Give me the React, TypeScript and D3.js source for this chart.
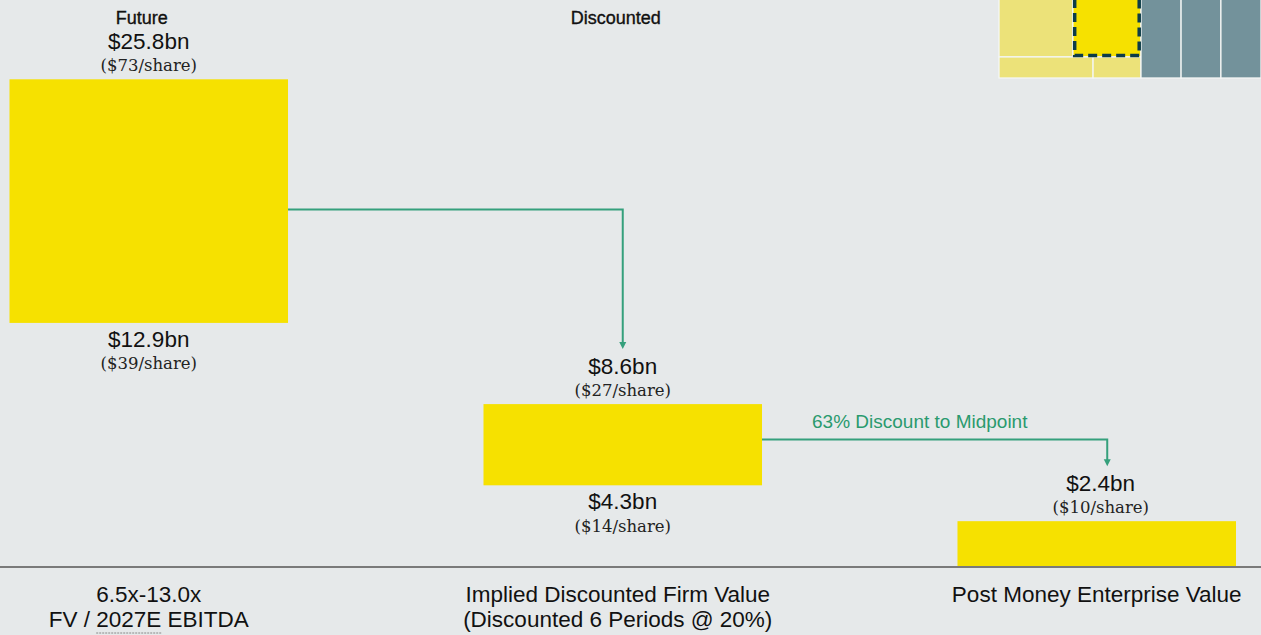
import React, { useEffect, useRef } from 'react';
import * as d3 from 'd3';

// values in $bn, per-share in $
const stageLabels = ['Future', 'Discounted', ''];
const categoryLines = [
  ['6.5x-13.0x', 'FV / 2027E EBITDA'],
  ['Implied Discounted Firm Value', '(Discounted 6 Periods @ 20%)'],
  ['Post Money Enterprise Value'],
];
const highValues = [25.8, 8.6, 2.4];
const lowValues = [12.9, 4.3, 0];
const highPerShare = [73, 27, 10];
const lowPerShare = [39, 14, null];
// level (in $bn) where each connector leaves a bar
const arrowLevels = [18.9, 6.73];
const arrowNotes = ['', '63% Discount to Midpoint'];

// thumbnail in the corner, in percent of its own box
const miniCells = [
  { x0: 0, x1: 28.2, y0: 0, y1: 73, kind: 'light' },
  { x0: 28.2, x1: 54.2, y0: 0, y1: 73, kind: 'bright' },
  { x0: 0, x1: 35.9, y0: 73, y1: 100, kind: 'light' },
  { x0: 35.9, x1: 54.2, y0: 73, y1: 100, kind: 'light' },
  { x0: 54.2, x1: 69.5, y0: 0, y1: 100, kind: 'grey' },
  { x0: 69.5, x1: 84.7, y0: 0, y1: 100, kind: 'grey' },
  { x0: 84.7, x1: 100, y0: 0, y1: 100, kind: 'grey' },
];

const SANS = '"Liberation Sans", Arial, Helvetica, sans-serif';
const SERIF = '"DejaVu Serif", serif';
const YELLOW = '#f6e100';
const GREEN = '#35a07c';

const App = () => {
  const svgRef = useRef<SVGSVGElement>(null);
  const width = 1261;
  const height = 635;

  useEffect(() => {
    const svg = d3.select(svgRef.current);
    svg.selectAll('*').remove();

    const baseY = 566.5;

    const x = d3.scaleBand<number>()
      .domain(d3.range(highValues.length))
      .range([9.5, 1236])
      .paddingInner(0.4124)
      .paddingOuter(0);
    const bw = x.bandwidth();

    const y = d3.scaleLinear().domain([0, 30]).range([baseY, 0]);

    svg.append('rect')
      .attr('width', width)
      .attr('height', height)
      .attr('fill', '#e6e9ea');

    // corner thumbnail (top edge runs off the page)
    const mx = d3.scaleLinear().domain([0, 100]).range([999, 1261]);
    const my = d3.scaleLinear().domain([0, 100]).range([0, 78]);
    const fills = { light: '#ece279', bright: YELLOW, grey: '#73929b' };
    const top0 = d => (d.y0 === 0 ? -10 : my(d.y0));
    svg.append('g')
      .selectAll('rect')
      .data(miniCells)
      .enter().append('rect')
      .attr('x', d => mx(d.x0))
      .attr('y', d => top0(d))
      .attr('width', d => mx(d.x1) - mx(d.x0))
      .attr('height', d => my(d.y1) - top0(d))
      .attr('fill', d => fills[d.kind])
      .attr('stroke', '#f4f6f5')
      .attr('stroke-width', 1.3);
    const hi = miniCells.find(d => d.kind === 'bright');
    svg.append('rect')
      .attr('x', mx(hi.x0) + 1.8)
      .attr('y', -20)
      .attr('width', mx(hi.x1) - mx(hi.x0) - 3.6)
      .attr('height', my(hi.y1) + 20 - 1.5)
      .attr('fill', 'none')
      .attr('stroke', '#0c3c48')
      .attr('stroke-width', 3.5)
      .attr('stroke-dasharray', '9,5');

    // range bars
    svg.append('g')
      .selectAll('rect')
      .data(highValues)
      .enter().append('rect')
      .attr('x', (d, i) => x(i))
      .attr('y', d => y(d))
      .attr('width', bw)
      .attr('height', (d, i) => y(lowValues[i]) - y(d))
      .attr('fill', YELLOW);

    // baseline
    svg.append('line')
      .attr('x1', 0).attr('x2', width)
      .attr('y1', baseY + 0.5).attr('y2', baseY + 0.5)
      .attr('stroke', '#7a7a7a')
      .attr('stroke-width', 2);

    // value labels
    highValues.forEach((v, i) => {
      const cx = x(i) + bw / 2 + (i === 2 ? 4 : 0);
      const top = y(v);
      svg.append('text')
        .attr('x', cx).attr('y', top - 30.5)
        .attr('text-anchor', 'middle')
        .attr('font-family', SANS).attr('font-size', 22.5)
        .attr('fill', '#111')
        .text(`$${v.toFixed(1)}bn`);
      svg.append('text')
        .attr('x', cx).attr('y', top - 8)
        .attr('text-anchor', 'middle')
        .attr('font-family', SERIF).attr('font-size', 16.5)
        .attr('fill', '#222')
        .text(`($${highPerShare[i]}/share)`);

      if (lowPerShare[i] != null) {
        const bot = y(lowValues[i]);
        svg.append('text')
          .attr('x', cx).attr('y', bot + 24)
          .attr('text-anchor', 'middle')
          .attr('font-family', SANS).attr('font-size', 22.5)
          .attr('fill', '#111')
          .text(`$${lowValues[i].toFixed(1)}bn`);
        svg.append('text')
          .attr('x', cx).attr('y', bot + 46.5)
          .attr('text-anchor', 'middle')
          .attr('font-family', SERIF).attr('font-size', 16.5)
          .attr('fill', '#222')
          .text(`($${lowPerShare[i]}/share)`);
      }

      if (stageLabels[i]) {
        svg.append('text')
          .attr('x', x(i) + bw / 2 - 7).attr('y', 24)
          .attr('text-anchor', 'middle')
          .attr('font-family', SANS).attr('font-size', 18)
          .attr('fill', '#111')
          .attr('stroke', '#111').attr('stroke-width', 0.35)
          .text(stageLabels[i]);
      }
    });

    // connectors
    arrowLevels.forEach((lvl, i) => {
      const x0 = x(i) + bw;
      const y0 = y(lvl);
      const x1 = x(i + 1) + bw / 2 + (i === 1 ? 10.5 : 0);
      const tip = y(highValues[i + 1]) - 55;
      svg.append('path')
        .attr('d', `M${x0},${y0}H${x1}V${tip - 6}`)
        .attr('fill', 'none')
        .attr('stroke', GREEN)
        .attr('stroke-width', 2);
      svg.append('path')
        .attr('d', `M${x1 - 3.5},${tip - 7}L${x1 + 3.5},${tip - 7}L${x1},${tip}Z`)
        .attr('fill', GREEN);
      if (arrowNotes[i]) {
        svg.append('text')
          .attr('x', x0 + 50).attr('y', y0 - 11)
          .attr('font-family', SANS).attr('font-size', 19)
          .attr('fill', '#2a9a6e')
          .text(arrowNotes[i]);
      }
    });

    // category labels
    categoryLines.forEach((lines, i) => {
      const cx = x(i) + bw / 2 - (i === 1 ? 5 : 0);
      lines.forEach((line, j) => {
        const t = svg.append('text')
          .attr('x', cx).attr('y', baseY + 35.5 + j * 25)
          .attr('text-anchor', 'middle')
          .attr('font-family', SANS).attr('font-size', 22.5)
          .attr('fill', '#111')
          .text(line);
        const k = line.indexOf('2027E');
        if (k >= 0) {
          const node = t.node();
          const sx = node.getStartPositionOfChar(k).x;
          const ex = node.getEndPositionOfChar(k + 4).x;
          svg.append('line')
            .attr('x1', sx).attr('x2', ex)
            .attr('y1', baseY + 66.5).attr('y2', baseY + 66.5)
            .attr('stroke', '#888')
            .attr('stroke-width', 1)
            .attr('stroke-dasharray', '2,1');
        }
      });
    });
  }, []);

  return (
    <svg
      ref={svgRef}
      width={width}
      height={height}
      style={{ position: 'absolute', left: 0, top: 0, display: 'block' }}
    />
  );
};

export default App;
